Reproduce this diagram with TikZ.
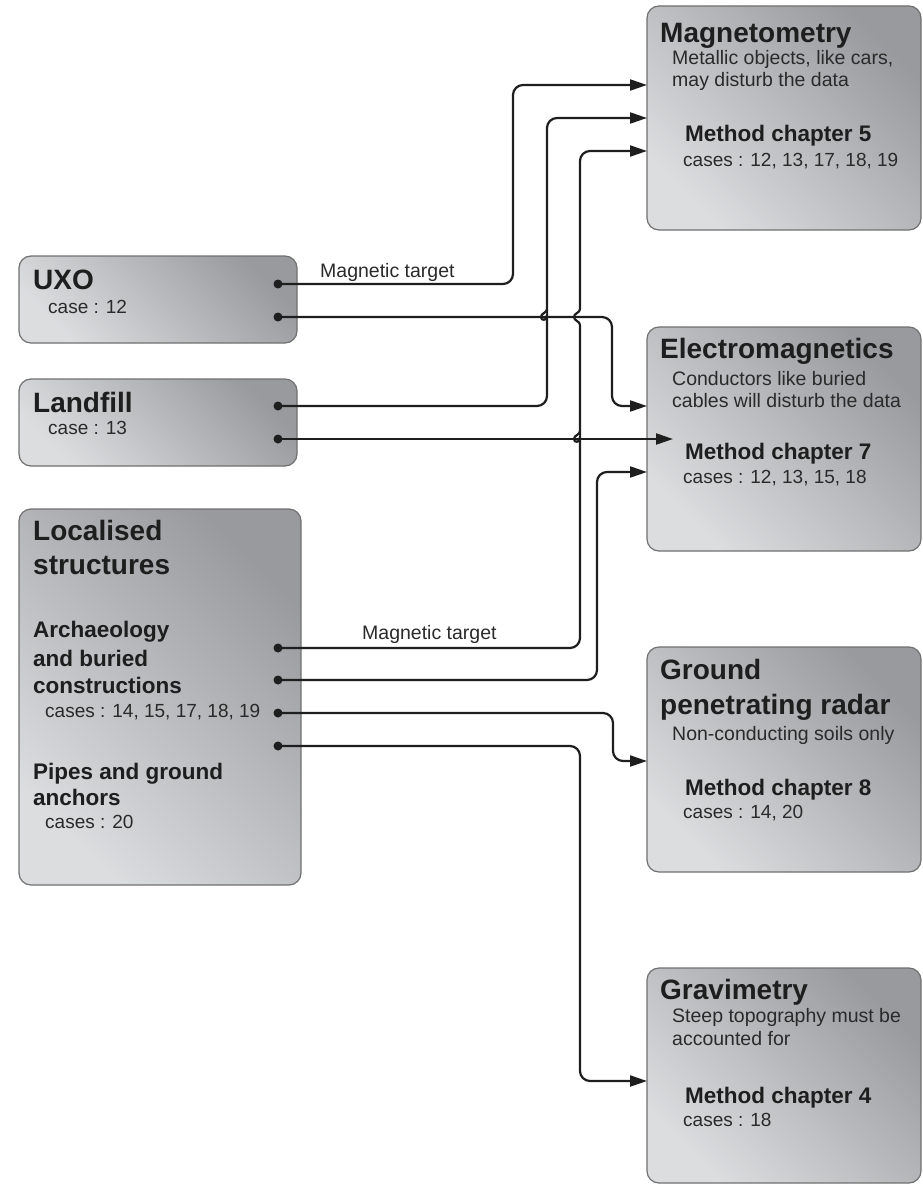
\documentclass[tikz,border=0pt]{standalone}
\usepackage{fontspec}
\setmainfont{Liberation Sans}
\usetikzlibrary{arrows.meta}
\definecolor{boxlight}{HTML}{DCDDDF}
\definecolor{boxdark}{HTML}{999A9D}
\definecolor{boxline}{HTML}{707070}
\definecolor{ink}{HTML}{1E1E1E}
\definecolor{txtc}{HTML}{2A2A2A}
\begin{document}
\begin{tikzpicture}[x=1pt,y=-1pt,
  box/.style={draw=boxline, line width=1.2pt, rounded corners=12pt, shade, shading=axis,
    top color=boxdark, bottom color=boxlight, shading angle=-45,
    anchor=north west, inner sep=0pt, outer sep=0pt},
  conn/.style={draw=ink, line width=2.2pt, rounded corners=10pt},
  arr/.style={-{Triangle[length=17pt,width=11pt]}},
  dot/.style={circle, fill=ink, inner sep=0pt, minimum size=9pt},
  ttl/.style={anchor=base west, inner sep=0pt, text=ink, font=\bfseries\fontsize{28}{28}\selectfont},
  sub/.style={anchor=base west, inner sep=0pt, text=ink, font=\bfseries\fontsize{22.5}{22.5}\selectfont},
  txt/.style={anchor=base west, inner sep=0pt, text=txtc, font=\fontsize{19.5}{19.5}\selectfont},
  cas/.style={anchor=base west, inner sep=0pt, text=txtc, font=\fontsize{19}{19}\selectfont}
]
\useasboundingbox (0,0) rectangle (922,1188);

% boxes
\node[box, minimum width=274pt, minimum height=224pt] (mag) at (647,6) {};
\node[box, minimum width=274pt, minimum height=224pt] (em) at (647,327) {};
\node[box, minimum width=274pt, minimum height=225pt] (gpr) at (647,647) {};
\node[box, minimum width=274pt, minimum height=215pt] (grav) at (647,968) {};
\node[box, minimum width=278pt, minimum height=87pt] (uxo) at (19,256) {};
\node[box, minimum width=278pt, minimum height=87pt] (land) at (19,379) {};
\node[box, minimum width=282pt, minimum height=376pt] (loc) at (19,509) {};

% texts right
\node[ttl] (magT) at (660,43) {Magnetometry};
\node[txt] (magD1) at (672,65) {Metallic objects, like cars,};
\node[txt] (magD2) at (672,87) {may disturb the data};
\node[sub] (magM) at (685,142) {Method chapter 5};
\node[cas] (magC) at (683,166) {cases : 12, 13, 17, 18, 19};

\node[ttl] (emT) at (660,358) {Electromagnetics};
\node[txt] (emD1) at (672,385) {Conductors like buried};
\node[txt] (emD2) at (672,407) {cables will disturb the data};
\node[sub] (emM) at (685,459) {Method chapter 7};
\node[cas] (emC) at (683,483) {cases : 12, 13, 15, 18};

\node[ttl] (gprT1) at (660,679) {Ground};
\node[ttl] (gprT2) at (660,714) {penetrating radar};
\node[txt] (gprD) at (672,740) {Non-conducting soils only};
\node[sub] (gprM) at (685,795) {Method chapter 8};
\node[cas] (gprC) at (683,818) {cases : 14, 20};

\node[ttl] (gravT) at (660,999) {Gravimetry};
\node[txt] (gravD1) at (672,1022) {Steep topography must be};
\node[txt] (gravD2) at (672,1045) {accounted for};
\node[sub] (gravM) at (685,1103) {Method chapter 4};
\node[cas] (gravC) at (683,1126) {cases : 18};

% texts left
\node[ttl] (uxoT) at (33,289) {UXO};
\node[cas] (uxoC) at (48,313) {case : 12};
\node[ttl] (landT) at (33,412) {Landfill};
\node[cas] (landC) at (48,434) {case : 13};
\node[ttl] (locT1) at (33,540) {Localised};
\node[ttl] (locT2) at (33,574) {structures};
\node[sub] (locA1) at (33,637) {Archaeology};
\node[sub] (locA2) at (33,666) {and buried};
\node[sub] (locA3) at (33,693) {constructions};
\node[cas] (locAC) at (45,717) {cases : 14, 15, 17, 18, 19};
\node[sub] (locP1) at (33,779) {Pipes and ground};
\node[sub] (locP2) at (33,805) {anchors};
\node[cas] (locPC) at (45,828) {cases : 20};

% dots
\node[dot] (u1) at (278,284) {};
\node[dot] (u2) at (278,317) {};
\node[dot] (l1) at (278,406) {};
\node[dot] (l2) at (278,439) {};
\node[dot] (s1) at (278,648) {};
\node[dot] (s2) at (278,680) {};
\node[dot] (s3) at (278,713) {};
\node[dot] (s4) at (278,746) {};

% connectors
\draw[conn,arr] (u1.center) -- (513,284) -- (513,85) -- (mag.west |- 0,85);
\draw[conn,arr] (u2.center) -- (612,317) -- (612,406) -- (em.west |- 0,406);
\draw[conn,arr] (l1.center) -- (547,406) -- (547,325)
  [sharp corners] .. controls (547,321) and (541,321) .. (541,317)
  .. controls (541,313) and (547,313) .. (547,309)
  [rounded corners=10pt] -- (547,118) -- (mag.west |- 0,118);
\draw[conn,arr,shorten >=-26pt] (l2.center) -- (em.west |- 0,439);
\draw[conn,arr] (s1.center) -- (580,648) -- (580,447)
  [sharp corners] .. controls (580,443) and (574,443) .. (574,439)
  .. controls (574,435) and (580,435) .. (580,431)
  -- (580,325)
  .. controls (580,321) and (574,321) .. (574,317)
  .. controls (574,313) and (580,313) .. (580,309)
  [rounded corners=10pt] -- (580,151) -- (mag.west |- 0,151);
\draw[conn,arr] (s2.center) -- (597,680) -- (597,472) -- (em.west |- 0,472);
\draw[conn,arr] (s3.center) -- (613,713) -- (613,761) -- (gpr.west |- 0,761);
\draw[conn,arr] (s4.center) -- (580,746) -- (580,1081) -- (grav.west |- 0,1081);

% labels
\node[txt] (lbl1) at (320,277) {Magnetic target};
\node[txt] (lbl2) at (362,639) {Magnetic target};
\end{tikzpicture}
\end{document}
